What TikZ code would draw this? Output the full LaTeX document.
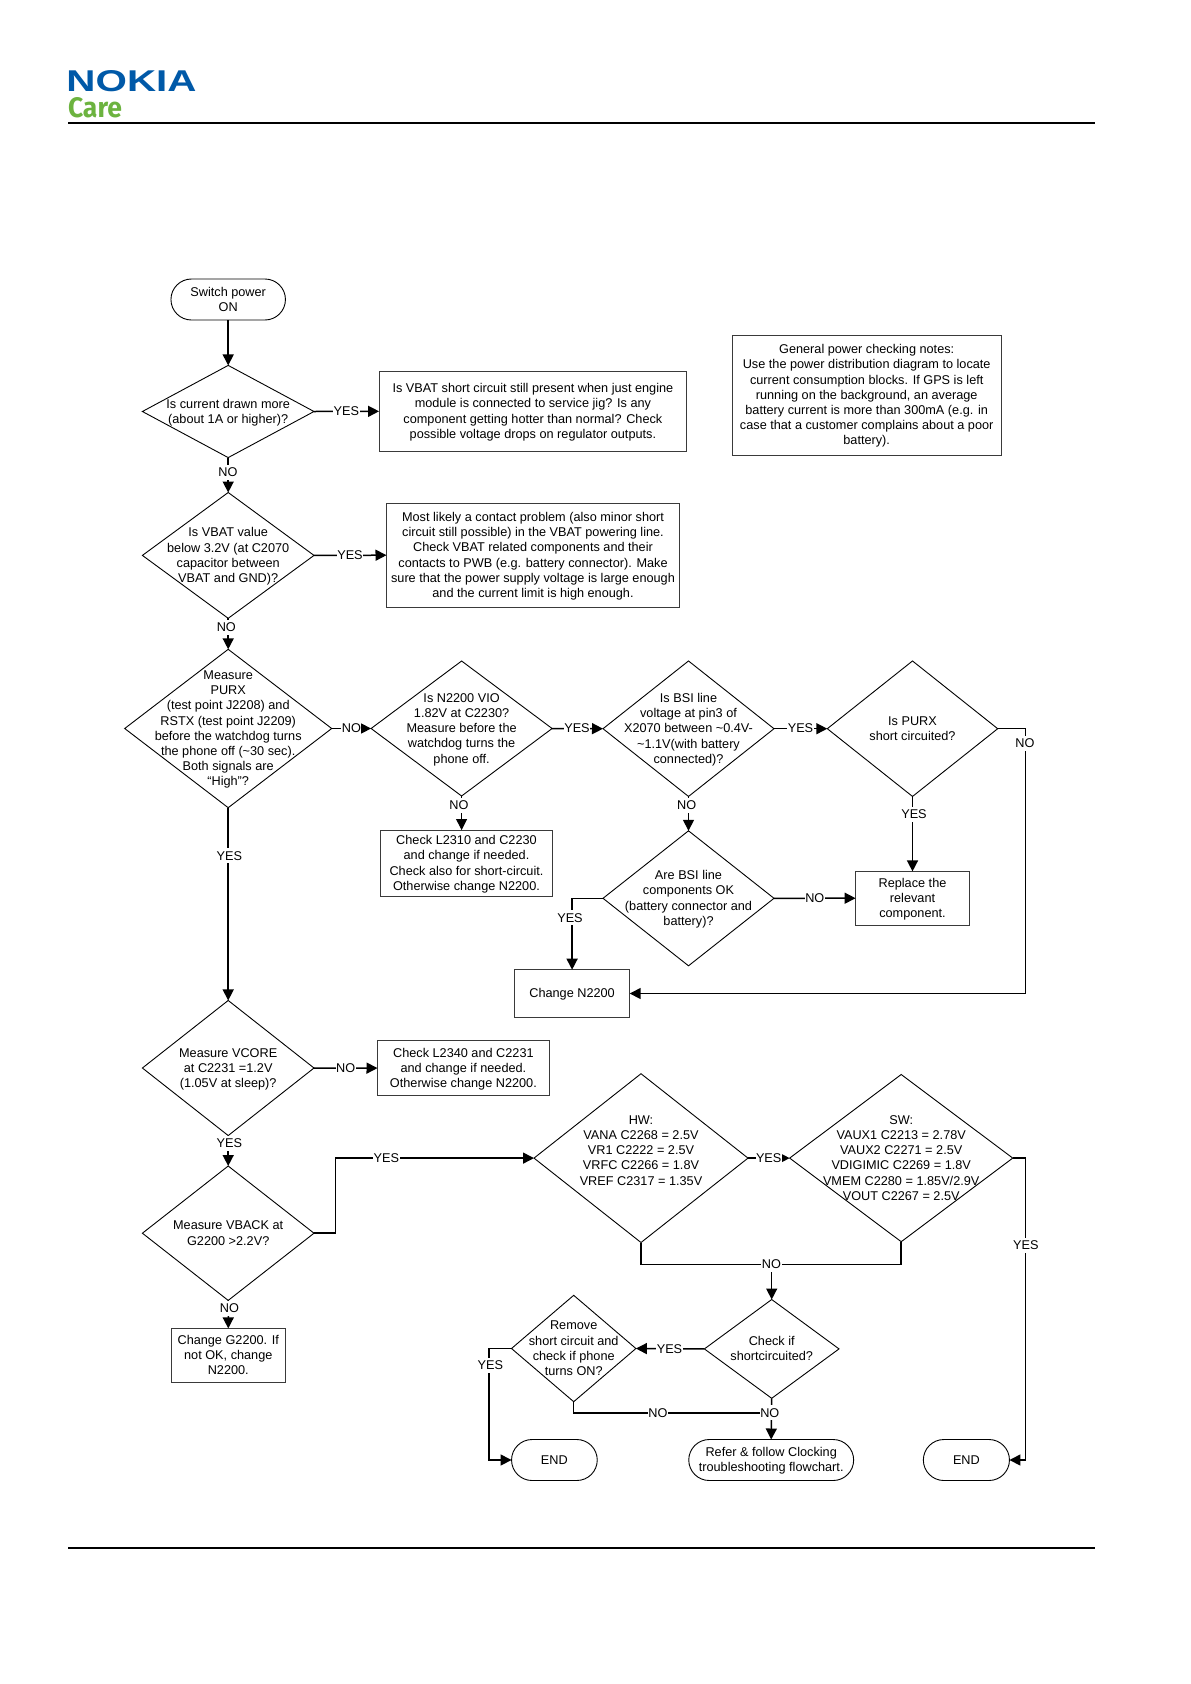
\documentclass[tikz,border=0pt]{standalone}
\usepackage{graphicx}
\usepackage{fontspec}
\setmainfont{Liberation Sans}
\newfontfamily\carefont{Fira Sans}
\usetikzlibrary{shapes.geometric,shapes.misc,arrows.meta,calc}
\definecolor{nokiablue}{HTML}{0059A8}
\definecolor{caregreen}{HTML}{6CB33F}
\definecolor{boxline}{HTML}{3A3A3A}
\newcommand{\dtxt}[1]{\smash{\makebox[0pt]{\raisebox{-.33em}{$\vcenter{\hbox{\begin{tabular}{@{}c@{}}#1\end{tabular}}}$}}}}
\tikzset{
  chart/.style={font=\fontsize{12.7}{15.2}\selectfont,outer sep=0pt,inner sep=0pt},
  dia/.style={chart,diamond,draw=black,line width=.9pt},
  tbox/.style={chart,rectangle,draw=boxline,line width=1pt},
  term/.style={chart,rounded rectangle,draw=black,line width=.9pt},
  conn/.style={line width=1.5pt,draw=black,-{Triangle[length=11pt,width=11pt]}},
  plainconn/.style={line width=1.5pt,draw=black},
  lab/.style={font=\fontsize{12.7}{15.2}\selectfont,fill=white,inner xsep=.5pt,inner ysep=3pt},
  rulebar/.style={line width=2pt,draw=black}
}
\begin{document}
\begin{tikzpicture}[x=1pt,y=-1pt]
\useasboundingbox[fill=white] (0,0) rectangle (1191,1684);
% header and footer
\node[inner sep=0pt,outer sep=0pt,text=nokiablue] (nokia) at (131.5,81) {\resizebox{130pt}{21pt}{\bfseries NOKIA}};
\node[inner sep=0pt,outer sep=0pt,text=caregreen] (care) at (95,108) {\resizebox{54pt}{20pt}{\carefont\bfseries Care}};
\coordinate (tl) at (68,123); \coordinate (tr) at (1095,123);
\coordinate (bl) at (68,1548); \coordinate (br) at (1095,1548);
\draw[rulebar] (tl) -- (tr);
\draw[rulebar] (bl) -- (br);
% nodes
\node[term,minimum width=114.5pt,minimum height=41pt] (start) at (228.2,299.5) {\dtxt{Switch power\\ON}};
\node[dia,minimum width=171.6pt,minimum height=92.2pt] (d1) at (228.2,411.5) {\dtxt{Is current drawn more\\(about 1A or higher)?}};
\node[tbox,minimum width=307.7pt,minimum height=79.4pt] (b1) at (532.9,411.3) {\dtxt{Is VBAT short circuit still present when just engine\\module is connected to service jig? Is any\\component getting hotter than normal? Check\\possible voltage drops on regulator outputs.}};
\node[tbox,minimum width=269.4pt,minimum height=120pt] (note) at (866.7,395) {\dtxt{General power checking notes:\\Use the power distribution diagram to locate\\current consumption blocks. If GPS is left\\running on the background, an average\\battery current is more than 300mA (e.g. in\\case that a customer complains about a poor\\battery).}};
\node[dia,minimum width=171.6pt,minimum height=125.8pt] (d2) at (228.2,555.4) {\dtxt{Is VBAT value\\below 3.2V (at C2070\\capacitor between\\VBAT and GND)?}};
\node[tbox,minimum width=293pt,minimum height=104.3pt] (b2) at (533,555.2) {\dtxt{Most likely a contact problem (also minor short\\circuit still possible) in the VBAT powering line.\\Check VBAT related components and their\\contacts to PWB (e.g. battery connector). Make\\sure that the power supply voltage is large enough\\and the current limit is high enough.}};
\node[dia,minimum width=207pt,minimum height=158.4pt] (d3) at (228.2,728.5) {\dtxt{Measure\\PURX\\(test point J2208) and\\RSTX (test point J2209)\\before the watchdog turns\\the phone off (\textasciitilde30 sec).\\Both signals are\\``High''?}};
\node[dia,minimum width=181pt,minimum height=135pt] (d4) at (461.6,728.5) {\dtxt{Is N2200 VIO\\1.82V at C2230?\\Measure before the\\watchdog turns the\\phone off.}};
\node[dia,minimum width=171pt,minimum height=135.5pt] (d5) at (688.5,728.7) {\dtxt{Is BSI line\\voltage at pin3 of\\X2070 between \textasciitilde0.4V-\\\textasciitilde1.1V(with battery\\connected)?}};
\node[dia,minimum width=170.4pt,minimum height=135.5pt] (d6) at (912.5,728.7) {\dtxt{Is PURX\\short circuited?}};
\node[tbox,minimum width=171.9pt,minimum height=66.3pt] (b3) at (466.5,863.2) {\dtxt{Check L2310 and C2230\\and change if needed.\\Check also for short-circuit.\\Otherwise change N2200.}};
\node[dia,minimum width=171pt,minimum height=135pt] (d7) at (688.5,898.3) {\dtxt{Are BSI line\\components OK\\(battery connector and\\battery)?}};
\node[tbox,minimum width=113.8pt,minimum height=53.6pt] (rep) at (912.5,898.2) {\dtxt{Replace the\\relevant\\component.}};
\node[tbox,minimum width=115.2pt,minimum height=47.6pt] (chg) at (572.1,993.5) {\dtxt{Change N2200}};
\node[dia,minimum width=171.6pt,minimum height=135.1pt] (d8) at (228.2,1068) {\dtxt{Measure VCORE\\at C2231 =1.2V\\(1.05V at sleep)?}};
\node[tbox,minimum width=171.8pt,minimum height=55.1pt] (b4) at (463.4,1068.1) {\dtxt{Check L2340 and C2231\\and change if needed.\\Otherwise change N2200.}};
\node[dia,minimum width=171.6pt,minimum height=134.4pt] (d9) at (228.2,1233.2) {\dtxt{Measure VBACK at\\G2200 >2.2V?}};
\node[tbox,minimum width=114.6pt,minimum height=53.6pt] (b5) at (228.3,1355.2) {\dtxt{Change G2200. If\\not OK, change\\N2200.}};
\node[dia,minimum width=214pt,minimum height=168.8pt] (d10) at (641,1158.1) {\dtxt{HW:\\VANA C2268 = 2.5V\\VR1 C2222 = 2.5V\\VRFC C2266 = 1.8V\\VREF C2317 = 1.35V\\ \strut}};
\node[dia,minimum width=223.1pt,minimum height=167.2pt] (d11) at (901.2,1158.1) {\dtxt{SW:\\VAUX1 C2213 = 2.78V\\VAUX2 C2271 = 2.5V\\VDIGIMIC C2269 = 1.8V\\VMEM C2280 = 1.85V/2.9V\\VOUT C2267 = 2.5V}};
\node[dia,minimum width=134.6pt,minimum height=98.8pt] (d12) at (771.7,1348.9) {\dtxt{Check if\\shortcircuited?}};
\node[dia,minimum width=124.4pt,minimum height=106.4pt] (d13) at (573.7,1348.5) {\dtxt{Remove\\short circuit and\\check if phone\\turns ON?}};
\node[term,minimum width=85.7pt,minimum height=41pt] (end1) at (554.4,1460) {\dtxt{END}};
\node[term,minimum width=164.9pt,minimum height=41pt] (refer) at (771.2,1460) {\dtxt{Refer \& follow Clocking\\troubleshooting flowchart.}};
\node[term,minimum width=86.1pt,minimum height=41pt] (end2) at (966.4,1460) {\dtxt{END}};
% bend points
\coordinate (cNo) at (1025.4,993.5);
\coordinate (cBack) at (335.4,1158.1);
\coordinate (cSwYes) at (1025.4,1158.1);
\coordinate (cMerge) at (771.7,1264.7);
\coordinate (cRemNo) at (771.7,1412.8);
\coordinate (cRemYes) at (488.8,1348.5);
% connectors
\draw[conn] (start.south) -- (d1.north);
\draw[conn] (d1.east) -- (b1.west);
\draw[conn] (d1.south) -- (d2.north);
\draw[conn] (d2.east) -- (b2.west);
\draw[conn] (d2.south) -- (d3.north);
\draw[conn] (d3.east) -- (d4.west);
\draw[conn] (d3.south) -- (d8.north);
\draw[conn] (d4.east) -- (d5.west);
\draw[conn,line width=.9pt] (d4.south) -- (d4.south |- b3.north);
\draw[conn] (d5.east) -- (d6.west);
\draw[conn] (d5.south) -- (d7.north);
\draw[conn] (d6.south) -- (rep.north);
\draw[conn] (d6.east) -| (cNo) -- (chg.east);
\draw[conn] (d7.west) -| (chg.north);
\draw[conn] (d7.east) -- (rep.west);
\draw[conn] (d8.east) -- (b4.west);
\draw[conn] (d8.south) -- (d9.north);
\draw[conn] (d9.south) -- (b5.north);
\draw[conn] (d9.east) -| (cBack) -- (d10.west);
\draw[conn] (d10.east) -- (d11.west);
\draw[plainconn] (d10.south) |- (cMerge);
\draw[plainconn] (d11.south) |- (cMerge);
\draw[conn] (cMerge) -- (d12.north);
\draw[conn] (d12.west) -- (d13.east);
\draw[conn] (d12.south) -- (refer.north);
\draw[plainconn] (d13.south) |- (cRemNo);
\draw[conn] (d13.west) -- (cRemYes) |- (end1.west);
\draw[conn] (d11.east) -- (cSwYes) |- (end2.east);
% connector labels
\node[lab] (l1) at (346.3,411) {YES};
\node[lab] (l2) at (228,472.6) {NO};
\node[lab] (l3) at (350,555) {YES};
\node[lab] (l4) at (226.3,627) {NO};
\node[lab] (l5) at (351.4,728.5) {NO};
\node[lab] (l6) at (229.4,855.7) {YES};
\node[lab] (l7) at (577,728.5) {YES};
\node[lab] (l8) at (459,805) {NO};
\node[lab] (l9) at (800.5,728.5) {YES};
\node[lab] (l10) at (686.7,805) {NO};
\node[lab] (l11) at (914,814) {YES};
\node[lab] (l12) at (1025,743.5) {NO};
\node[lab] (l13) at (570,917.7) {YES};
\node[lab] (l14) at (814.8,898.3) {NO};
\node[lab] (l15) at (345.7,1067.7) {NO};
\node[lab] (l16) at (229.4,1143.4) {YES};
\node[lab] (l17) at (229.4,1308) {NO};
\node[lab] (l18) at (386.3,1157.8) {YES};
\node[lab] (l19) at (768.7,1157.8) {YES};
\node[lab] (l20) at (771.5,1264.5) {NO};
\node[lab] (l21) at (669.5,1348.7) {YES};
\node[lab] (l22) at (769.8,1412.8) {NO};
\node[lab] (l23) at (658,1412.8) {NO};
\node[lab] (l24) at (490.4,1365.5) {YES};
\node[lab] (l25) at (1025.8,1245) {YES};
\end{tikzpicture}
\end{document}
